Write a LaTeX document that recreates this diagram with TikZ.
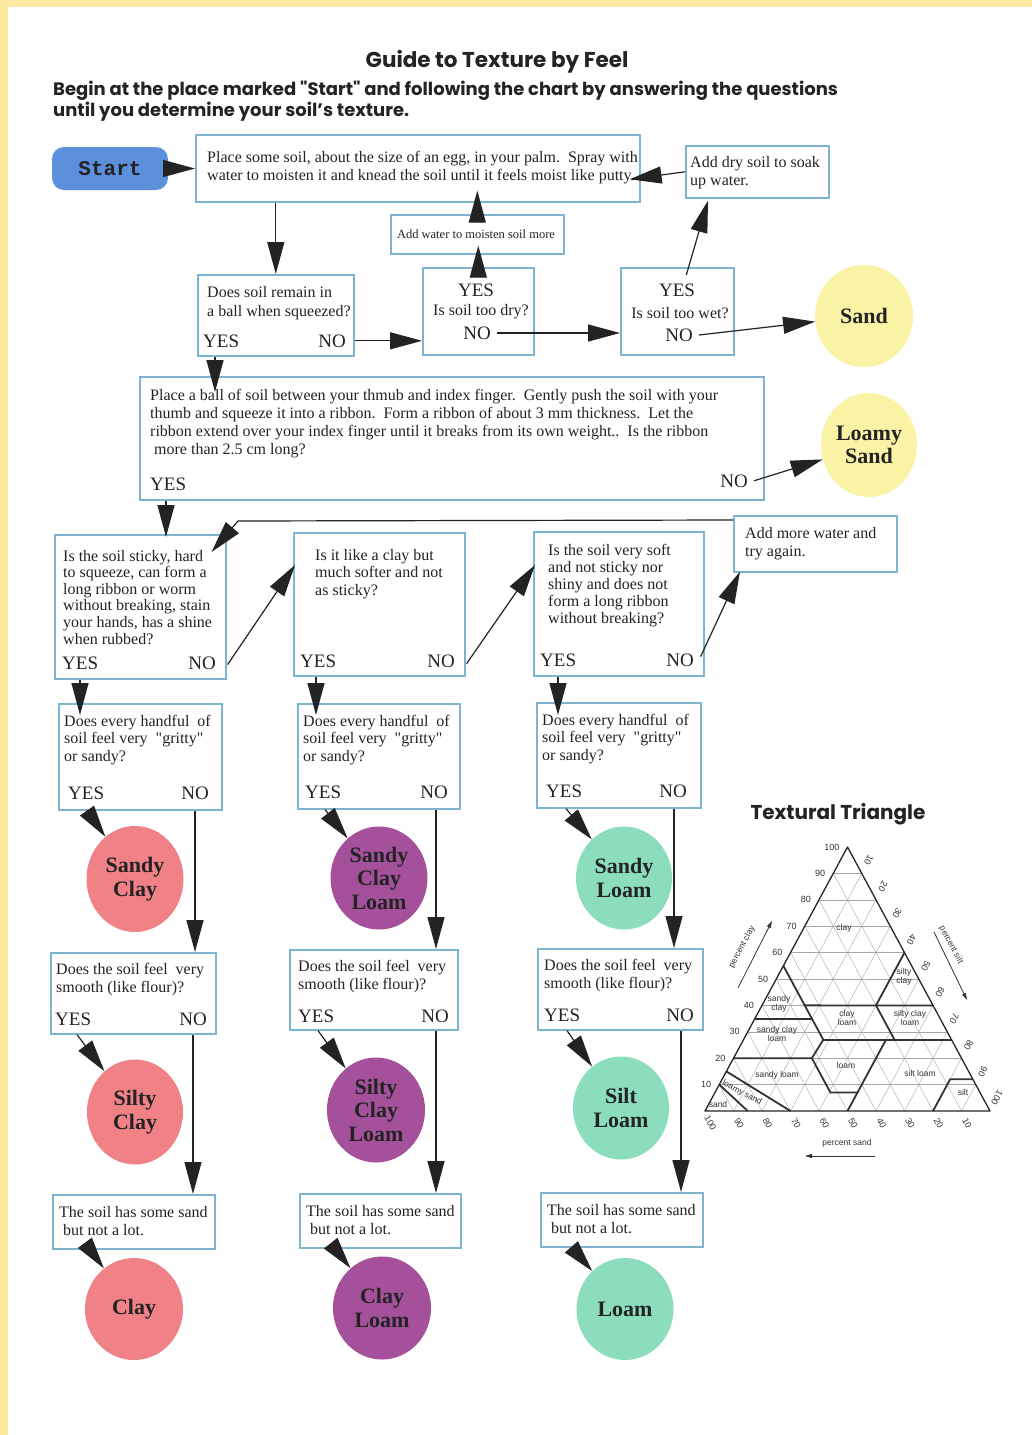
\documentclass[tikz,border=0pt]{standalone}
\usepackage{fontspec}
\setmainfont{Liberation Serif}[Ligatures=TeXOff]
\newfontfamily\titlefont{Poppins}[Ligatures=TeXOff]
\newfontfamily\startfont{Liberation Mono}
\newfontfamily\trifont{Liberation Sans}
\usetikzlibrary{arrows.meta,calc,shapes.geometric}
\definecolor{boxblue}{RGB}{125,180,210}
\definecolor{startblue}{RGB}{92,143,220}
\definecolor{sandc}{RGB}{250,243,165}
\definecolor{pinkc}{RGB}{240,130,135}
\definecolor{purplec}{RGB}{165,80,155}
\definecolor{tealc}{RGB}{140,220,190}
\definecolor{framec}{RGB}{255,233,160}
\definecolor{ink}{RGB}{35,35,35}
\tikzset{
 qbox/.style={draw=boxblue,line width=1.6pt,fill=white,inner sep=0pt,anchor=north west},
 txt/.style={font=\fontsize{16}{17.3}\selectfont,text=ink,align=left,anchor=base west,inner sep=0pt},
 smalltxt/.style={font=\fontsize{12.5}{14}\selectfont,text=ink,inner sep=0pt},
 yn/.style={font=\fontsize{19}{22}\selectfont,text=ink,inner sep=0pt},
 soil/.style={ellipse,inner sep=0pt,font=\bfseries\fontsize{22}{23.5}\selectfont,text=ink,align=center},
 arr/.style={draw=ink,line width=1.2pt,-{Triangle[length=32pt,width=17pt]}},
 tri/.style={font=\trifont\fontsize{8.5}{9}\selectfont,text=black!80,inner sep=0.5pt},
 tick/.style={font=\trifont\fontsize{9}{9}\selectfont,text=black!80,inner sep=0pt},
 gridl/.style={draw=black!35,line width=0.4pt},
 bnd/.style={draw=black!80,line width=1.8pt},
 tarr/.style={draw=black!80,line width=0.8pt,-{Triangle[length=7pt,width=4pt]}},
}
\begin{document}
\begin{tikzpicture}[x=1pt,y=-1pt]
\useasboundingbox (0,0) rectangle (1032,1435);
\fill[framec] (0,0) rectangle (1032,1435);
\fill[white] (8,7) rectangle (1032,1435);

% titles
\node[font=\titlefont\bfseries\fontsize{21.5}{23}\selectfont,text=ink,inner sep=0pt] (title) at (497,62) {Guide to Texture by Feel};
\node[font=\titlefont\bfseries\fontsize{18}{20}\selectfont,text=ink,inner sep=0pt,anchor=west] (sub1) at (53,91) {Begin at the place marked "Start" and following the chart by answering the questions};
\node[font=\titlefont\bfseries\fontsize{18}{20}\selectfont,text=ink,inner sep=0pt,anchor=west] (sub2) at (53,112) {until you determine your soil’s texture.};

% start
\node[fill=startblue,rounded corners=12pt,minimum width=116pt,minimum height=43pt,inner sep=0pt,
  font=\startfont\bfseries\fontsize{21}{21}\selectfont,text=ink] (start) at (110,168.5) {Start};

% boxes
\node[qbox,minimum width=444pt,minimum height=67pt] (A) at (195,134) {};
\node[qbox,minimum width=143pt,minimum height=52pt] (adddry) at (685,145) {};
\node[qbox,minimum width=173pt,minimum height=39pt] (addw) at (390,214) {};
\node[qbox,minimum width=156pt,minimum height=81pt] (ball) at (197,274) {};
\node[qbox,minimum width=111pt,minimum height=87pt] (dry) at (422,267) {};
\node[qbox,minimum width=113pt,minimum height=87pt] (wet) at (620,267) {};
\node[qbox,minimum width=624pt,minimum height=123pt] (rib) at (139,376) {};
\node[qbox,minimum width=171pt,minimum height=144pt] (clayq) at (54,534) {};
\node[qbox,minimum width=171pt,minimum height=143pt] (likeq) at (293,532) {};
\node[qbox,minimum width=170pt,minimum height=144pt] (softq) at (533,531) {};
\node[qbox,minimum width=163pt,minimum height=56pt] (more) at (733,515) {};
\node[qbox,minimum width=163pt,minimum height=106pt] (g1) at (58,703) {};
\node[qbox,minimum width=162pt,minimum height=105pt] (g2) at (297,703) {};
\node[qbox,minimum width=164pt,minimum height=105pt] (g3) at (536,702) {};
\node[qbox,minimum width=165pt,minimum height=81pt] (s1) at (50,952) {};
\node[qbox,minimum width=168pt,minimum height=80pt] (s2) at (289,949) {};
\node[qbox,minimum width=165pt,minimum height=81pt] (s3) at (537,948) {};
\node[qbox,minimum width=162pt,minimum height=54pt] (n1) at (52,1194) {};
\node[qbox,minimum width=161pt,minimum height=54pt] (n2) at (299,1193) {};
\node[qbox,minimum width=162pt,minimum height=54pt] (n3) at (540,1192) {};

% texts (base = baseline of last line)
\node[txt,font=\fontsize{16}{18}\selectfont] (At) at (207,180) {Place some soil, about the size of an egg, in your palm.\ \ Spray with\\water to moisten it and knead the soil until it feels moist like putty.};
\node[txt] (adddryt) at (690,185) {Add dry soil to soak\\up water.};
\node[smalltxt] (addwt) at (476,234) {Add water to moisten soil more};
\node[txt,font=\fontsize{16}{18.5}\selectfont] (ballt) at (207,316) {Does soil remain in\\a ball when squeezed?};
\node[yn,anchor=base west] (ballY) at (203,347) {YES};
\node[yn,anchor=base east] (ballN) at (346,347) {NO};
\node[yn] (dryY) at (476,290) {YES};
\node[txt,anchor=center] (dryt) at (481,312) {Is soil too dry?};
\node[yn] (dryN) at (477,333) {NO};
\node[yn] (wetY) at (677,290) {YES};
\node[txt,anchor=center] (wett) at (680,313) {Is soil too wet?};
\node[yn] (wetN) at (679,335) {NO};
\node[txt,font=\fontsize{16}{17.7}\selectfont] (ribt) at (150,454) {Place a ball of soil between your thmub and index finger.\ \ Gently push the soil with your\\thumb and squeeze it into a ribbon.\ \ Form a ribbon of about 3 mm thickness.\ \ Let the\\ribbon extend over your index finger until it breaks from its own weight..\ \ Is the ribbon\\\hspace*{4pt}more than 2.5 cm long?};
\node[yn,anchor=base west] (ribY) at (150,490) {YES};
\node[yn,anchor=base east] (ribN) at (748,487) {NO};
\node[txt,font=\fontsize{16}{16.6}\selectfont] (clayt) at (63,644) {Is the soil sticky, hard\\to squeeze, can form a\\long ribbon or worm\\without breaking, stain\\your hands, has a shine\\when rubbed?};
\node[yn,anchor=base west] (clayY) at (62,669) {YES};
\node[yn,anchor=base east] (clayN) at (216,669) {NO};
\node[txt] (liket) at (315,595) {Is it like a clay but\\much softer and not\\as sticky?};
\node[yn,anchor=base west] (likeY) at (300,667) {YES};
\node[yn,anchor=base east] (likeN) at (455,667) {NO};
\node[txt,font=\fontsize{16}{17}\selectfont] (softt) at (548,623) {Is the soil very soft\\and not sticky nor\\shiny and does not\\form a long ribbon\\without breaking?};
\node[yn,anchor=base west] (softY) at (540,666) {YES};
\node[yn,anchor=base east] (softN) at (694,666) {NO};
\node[txt] (moret) at (745,556) {Add more water and\\try again.};
\node[txt] (g1t) at (64,761) {Does every handful\ \ of\\soil feel very\ \ "gritty"\\or sandy?};
\node[yn,anchor=base west] (g1Y) at (68,799) {YES};
\node[yn,anchor=base east] (g1N) at (209,799) {NO};
\node[txt] (g2t) at (303,761) {Does every handful\ \ of\\soil feel very\ \ "gritty"\\or sandy?};
\node[yn,anchor=base west] (g2Y) at (305,798) {YES};
\node[yn,anchor=base east] (g2N) at (448,798) {NO};
\node[txt] (g3t) at (542,760) {Does every handful\ \ of\\soil feel very\ \ "gritty"\\or sandy?};
\node[yn,anchor=base west] (g3Y) at (546,797) {YES};
\node[yn,anchor=base east] (g3N) at (687,797) {NO};
\node[txt] (s1t) at (56,992) {Does the soil feel\ \ very\\smooth (like flour)?};
\node[yn,anchor=base west] (s1Y) at (55,1025) {YES};
\node[yn,anchor=base east] (s1N) at (207,1025) {NO};
\node[txt] (s2t) at (298,989) {Does the soil feel\ \ very\\smooth (like flour)?};
\node[yn,anchor=base west] (s2Y) at (298,1022) {YES};
\node[yn,anchor=base east] (s2N) at (449,1022) {NO};
\node[txt] (s3t) at (544,988) {Does the soil feel\ \ very\\smooth (like flour)?};
\node[yn,anchor=base west] (s3Y) at (544,1021) {YES};
\node[yn,anchor=base east] (s3N) at (694,1021) {NO};
\node[txt] (n1t) at (59,1235) {The soil has some sand\\\hspace*{4pt}but not a lot.};
\node[txt] (n2t) at (306,1234) {The soil has some sand\\\hspace*{4pt}but not a lot.};
\node[txt] (n3t) at (547,1233) {The soil has some sand\\\hspace*{4pt}but not a lot.};

% soil circles
\node[soil,fill=sandc,minimum width=98pt,minimum height=102pt] (sand) at (864,316) {Sand};
\node[soil,fill=sandc,minimum width=96pt,minimum height=104pt] (lsand) at (869,445) {Loamy\\Sand};
\node[soil,fill=pinkc,minimum width=97pt,minimum height=106pt] (sc) at (135,879) {Sandy\\Clay};
\node[soil,fill=purplec,minimum width=97pt,minimum height=103pt] (scl) at (379,878) {Sandy\\Clay\\Loam};
\node[soil,fill=tealc,minimum width=96pt,minimum height=103pt] (sl) at (624,878) {Sandy\\Loam};
\node[soil,fill=pinkc,minimum width=96pt,minimum height=105pt] (sic) at (135,1112) {Silty\\Clay};
\node[soil,fill=purplec,minimum width=98pt,minimum height=105pt] (sicl) at (376,1110) {Silty\\Clay\\Loam};
\node[soil,fill=tealc,minimum width=96pt,minimum height=103pt] (sil) at (621,1108) {Silt\\Loam};
\node[soil,fill=pinkc,minimum width=98pt,minimum height=102pt] (clayc) at (134,1309) {Clay};
\node[soil,fill=purplec,minimum width=98pt,minimum height=103pt] (cl) at (382,1308) {Clay\\Loam};
\node[soil,fill=tealc,minimum width=97pt,minimum height=102pt] (loamc) at (625,1309) {Loam};

% connectors
\draw[arr] (start.east) -- (A.west |- start.east);
\draw[arr] (A.south -| ball.north) -- (ball.north);
\draw[arr] (ball.east |- ballN) -- (dry.west |- ballN);
\draw[arr,shorten >=-9pt] (dry.north) -- (dry.north |- addw.south);
\draw[arr,shorten >=-12pt] (addw.north) -- (addw.north |- A.south);
\draw[arr] ($(dryN.east)+(6,0)$) -- (wet.west |- dryN.east);
\draw[arr] ($(wet.north)+(9,8)$) -- ($(adddry.south west)+(23,2)$);
\draw[arr] (adddry.west) -- ($(A.east)+(-11,11)$);
\draw[arr] ($(wetN.east)+(6,0)$) -- (sand);
\draw[arr] ($(ribN.east)+(6,0)$) -- (lsand);
\draw[arr] ($(ball.south west)+(18,0)$) -- ($(rib.north west)+(76,16)$);
\draw[arr] ($(rib.south west)+(27,0)$) -- ($(clayq.north west)+(112,3)$);
\draw[arr] ($(more.north west)+(0,5)$) -- ++(-495,1) -- ($(clayq.north east)+(-15,18)$);
\draw[arr] ($(clayq.south east)+(1,-15)$) -- ($(likeq.north west)+(2,33)$);
\draw[arr] ($(likeq.south east)+(1,-13)$) -- ($(softq.north west)+(2,34)$);
\draw[arr] ($(softq.south east)+(-4,-20)$) -- ($(more.south west)+(7,-1)$);
\draw[arr] ($(clayq.south west)+(26,0)$) -- ($(g1.north west)+(22,12)$);
\draw[arr] ($(likeq.south west)+(23,0)$) -- ($(g2.north west)+(19,12)$);
\draw[arr] ($(softq.south west)+(25,0)$) -- ($(g3.north west)+(22,13)$);
\draw[arr] ($(g1.south west)+(29,0)$) -- (sc);
\draw[arr] ($(g2.south west)+(28,0)$) -- (scl);
\draw[arr] ($(g3.south west)+(30,0)$) -- (sl);
\draw[arr] ($(g1.south west)+(137,0)$) -- ($(s1.north west)+(145,0)$);
\draw[arr] ($(g2.south west)+(139,0)$) -- ($(s2.north west)+(147,0)$);
\draw[arr] ($(g3.south west)+(138,0)$) -- ($(s3.north west)+(137,0)$);
\draw[arr] ($(s1.south west)+(27,0)$) -- (sic);
\draw[arr] ($(s2.south west)+(29,0)$) -- (sicl);
\draw[arr] ($(s3.south west)+(30,0)$) -- (sil);
\draw[arr] ($(s1.south west)+(143,0)$) -- ($(n1.north west)+(141,0)$);
\draw[arr] ($(s2.south west)+(147,0)$) -- ($(n2.north west)+(137,0)$);
\draw[arr] ($(s3.south west)+(144,0)$) -- ($(n3.north west)+(141,0)$);
\draw[arr] ($(n1.south west)+(38,0)$) -- (clayc);
\draw[arr] ($(n2.south west)+(36,0)$) -- (cl);
\draw[arr] ($(n3.south west)+(32,0)$) -- (loamc);

% textural triangle
\node[font=\titlefont\bfseries\fontsize{20}{22}\selectfont,text=ink,inner sep=0pt] (ttitle) at (838,814) {Textural Triangle};
\coordinate (SA) at (705,1111);
\coordinate (SI) at (990,1111);
\coordinate (CL) at (847.5,847);
\foreach \k in {1,...,9}{
  \pgfmathsetmacro\a{\k/10}
  \pgfmathsetmacro\b{1-\k/10}
  \draw[gridl] (barycentric cs:SA=\b,CL=\a) -- (barycentric cs:SI=\b,CL=\a);
  \draw[gridl] (barycentric cs:SA=\a,SI=\b) -- (barycentric cs:SA=\a,CL=\b);
  \draw[gridl] (barycentric cs:SI=\a,SA=\b) -- (barycentric cs:SI=\a,CL=\b);
}
\draw[bnd] (barycentric cs:SA=.85,SI=.15) -- (barycentric cs:SA=.90,CL=.10);
\draw[bnd] (barycentric cs:SA=.70,SI=.30) -- (barycentric cs:SA=.85,CL=.15);
\draw[bnd] (barycentric cs:SA=.80,CL=.20) -- (barycentric cs:SA=.525,SI=.275,CL=.20) -- (barycentric cs:SA=.45,SI=.28,CL=.27);
\draw[bnd] (barycentric cs:SA=.525,SI=.275,CL=.20) -- (barycentric cs:SA=.525,SI=.405,CL=.07) -- (barycentric cs:SA=.43,SI=.50,CL=.07);
\draw[bnd] (barycentric cs:SA=.50,SI=.50) -- (barycentric cs:SA=.23,SI=.50,CL=.27);
\draw[bnd] (barycentric cs:SA=.45,SI=.28,CL=.27) -- (barycentric cs:SI=.73,CL=.27);
\draw[bnd] (barycentric cs:SA=.45,CL=.55) -- (barycentric cs:SA=.45,SI=.28,CL=.27);
\draw[bnd] (barycentric cs:SA=.65,CL=.35) -- (barycentric cs:SA=.45,SI=.20,CL=.35);
\draw[bnd] (barycentric cs:SA=.45,SI=.15,CL=.40) -- (barycentric cs:SI=.60,CL=.40);
\draw[bnd] (barycentric cs:SA=.20,SI=.40,CL=.40) -- (barycentric cs:SA=.20,SI=.53,CL=.27);
\draw[bnd] (barycentric cs:SA=.20,SI=.40,CL=.40) -- (barycentric cs:SI=.40,CL=.60);
\draw[bnd] (barycentric cs:SA=.20,SI=.80) -- (barycentric cs:SA=.08,SI=.80,CL=.12) -- (barycentric cs:SI=.88,CL=.12);
\draw[draw=black!85,line width=1.3pt,line join=round] (SA) -- (SI) -- (CL) -- cycle;

\node[tri] (tclay) at (844,928) {clay};
\node[tri,align=center] (tsic) at (904,977) {silty\\clay};
\node[tri,align=center] (tsc) at (779,1004) {sandy\\clay};
\node[tri,align=center] (tcl) at (847,1018) {clay\\loam};
\node[tri,align=center] (tsicl) at (910,1018) {silty clay\\loam};
\node[tri,align=center] (tscl) at (777,1034) {sandy clay\\loam};
\node[tri] (tl) at (846,1065) {loam};
\node[tri] (tsl) at (777,1075) {sandy loam};
\node[tri] (tsil) at (920,1073) {silt loam};
\node[tri] (tsi) at (963,1092) {silt};
\node[tri,rotate=-28] (tls) at (742,1093) {loamy sand};
\node[tri] (ts) at (718,1104) {sand};

\foreach \k in {10,20,...,100}{
  \node[tick,anchor=east] (lt\k) at ({705+1.425*\k-8},{1111-2.64*\k}) {\k};
  \node[tick,rotate=-118.4] (rt\k) at ({854.5+1.425*\k},{834+2.64*\k}) {\k};
  \node[tick,rotate=-61.6] (bt\k) at ({705+2.85*(100-\k)+5.5},1123) {\k};
}
\node[tri,rotate=61.6] (pclay) at (742,947) {percent clay};
\coordinate (pca) at (738,988);
\coordinate (pcb) at (772,921);
\draw[tarr] (pca) -- (pcb);
\node[tri,rotate=-61.6] (psilt) at (951,945) {percent silt};
\coordinate (psa) at (934,932);
\coordinate (psb) at (967,1000);
\draw[tarr] (psa) -- (psb);
\node[tri] (psand) at (847,1143) {percent sand};
\coordinate (pda) at (875,1156);
\coordinate (pdb) at (805,1156);
\draw[tarr] (pda) -- (pdb);
\end{tikzpicture}
\end{document}
